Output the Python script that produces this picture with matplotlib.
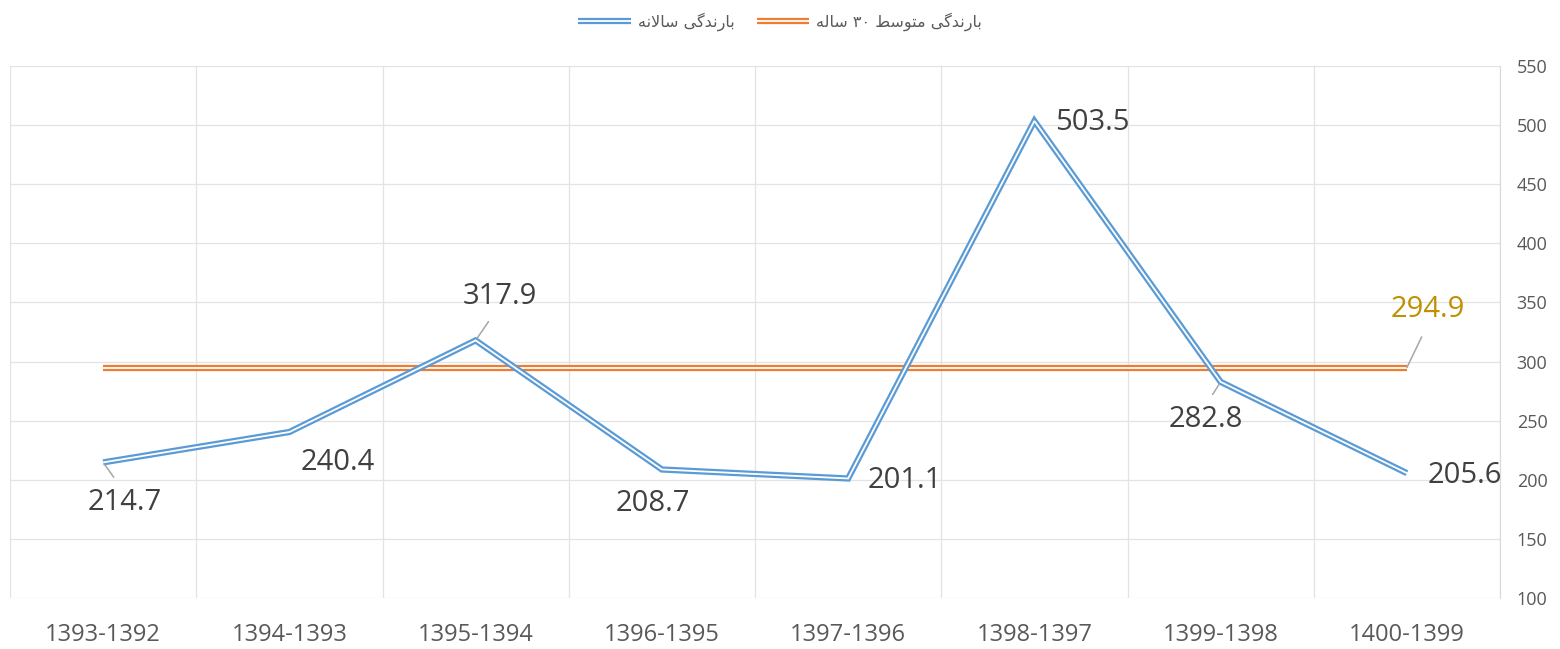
"""Annual vs 30-year average precipitation line chart (Excel-style double lines)."""
import matplotlib
matplotlib.use("Agg")
import matplotlib.pyplot as plt
import matplotlib.patheffects as pe
import numpy as np

plt.rcParams["font.family"] = ["Open Sans", "DejaVu Sans"]

# ---- data ----
years = ["1393-1392", "1394-1393", "1395-1394", "1396-1395",
         "1397-1396", "1398-1397", "1399-1398", "1400-1399"]
annual = [214.7, 240.4, 317.9, 208.7, 201.1, 503.5, 282.8, 205.6]
avg_30yr = 294.9

# legend labels: Persian, pre-shaped into presentation forms in visual order
# (matplotlib has no Arabic shaping / bidi)
lbl_annual = "\uFEEA\uFEE7\uFEFB\uFE8E\uFEB3 \uFBFD\uFB94\uFEAA\uFEE7\uFEAD\uFE8E\uFE91"   # بارندگی سالانه
lbl_avg = ("\uFEEA\uFEDF\uFE8E\uFEB3 \u06F3\u06F0 \uFEC2\uFEB3\uFEEE\uFE98\uFEE3 "
           "\uFBFD\uFB94\uFEAA\uFEE7\uFEAD\uFE8E\uFE91")                               # بارندگی متوسط ۳۰ ساله

# label offsets (pixels) relative to each point; leader = where the leader leaves the label
lbl_off = [(22, -40), (48, -30), (24, 44), (-9, -34), (57, -2), (58, -2), (-15, -38), (58, -2)]
leader = [(0.45, 1.0), None, (0.45, 0.0), None, None, None, (0.5, 1.0), None]

BLUE, ORANGE = "#5B9BD5", "#ED7D31"
GRID = "#E3E3E3"


def double_line(color):
    return [pe.Stroke(linewidth=4.5, foreground=color), pe.Normal()]


fig = plt.figure(figsize=(15.6, 6.49), dpi=100)
ax = fig.add_axes([10 / 1560, 51 / 649, 1490 / 1560, 532 / 649])
x = np.arange(len(years))

ax.plot(x, annual, color="white", lw=1.3, path_effects=double_line(BLUE),
        label=lbl_annual, zorder=4, solid_joinstyle="miter", solid_capstyle="butt")
ax.plot(x, [avg_30yr] * len(x), color="white", lw=1.3, path_effects=double_line(ORANGE),
        label=lbl_avg, zorder=3, solid_capstyle="butt")

for i, v in enumerate(annual):
    kw = {}
    if leader[i] is not None:
        kw["arrowprops"] = dict(arrowstyle="-", color="#A6A6A6", lw=1.1, shrinkA=7, shrinkB=2,
                                relpos=leader[i])
    ax.annotate(f"{v:.1f}", (x[i], v), xytext=lbl_off[i], textcoords="offset pixels",
                ha="center", va="center", fontsize=21, color="#404040", zorder=6, **kw)
ax.annotate(f"{avg_30yr:.1f}", (x[-1], avg_30yr), xytext=(21, 58), textcoords="offset pixels",
            ha="center", va="center", fontsize=21, color="#BF9000", zorder=6,
            arrowprops=dict(arrowstyle="-", color="#A6A6A6", lw=1.1, shrinkA=8, shrinkB=0,
                            relpos=(0.5, 0.0)))

ax.set_xlim(-0.5, len(years) - 0.5)
ax.set_ylim(100, 550)
ax.set_yticks(np.arange(100, 551, 50))
ax.set_xticks(x)
ax.set_xticklabels(years)
ax.set_xticks(np.arange(-0.5, len(years), 1), minor=True)
ax.yaxis.tick_right()
ax.tick_params(axis="y", length=0, labelsize=13, labelcolor="#595959", pad=12)
ax.tick_params(axis="x", which="both", length=0, labelsize=17, labelcolor="#595959", pad=18)
ax.grid(axis="y", color=GRID, lw=0.9)
ax.grid(axis="x", which="minor", color=GRID, lw=0.9)
for s in ["top", "left", "bottom"]:
    ax.spines[s].set_visible(False)
ax.spines["right"].set_color("#D9D9D9")
ax.set_axisbelow(True)

fig.legend(loc="center", bbox_to_anchor=(0.5, 1 - 22 / 649), ncol=2, frameon=False,
           prop={"family": ["DejaVu Sans"], "size": 11.5}, handlelength=3.3,
           handletextpad=0.4, columnspacing=1.4, labelcolor="#595959")

fig.savefig("out.png", dpi=100)
